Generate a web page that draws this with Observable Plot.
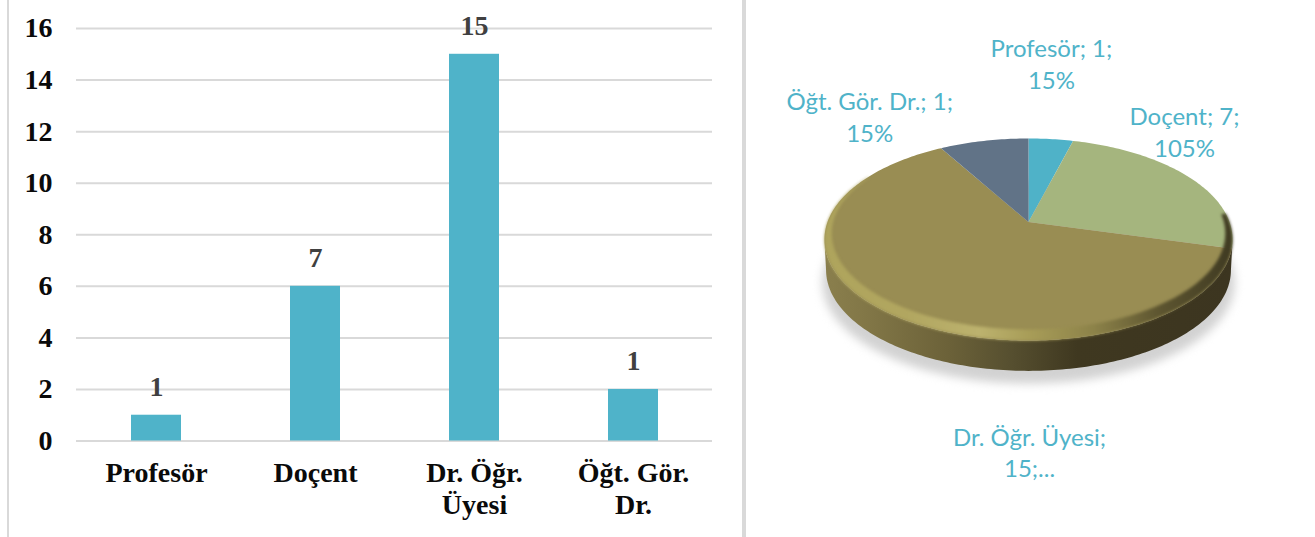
<!DOCTYPE html>
<html><head><meta charset="utf-8">
<script src="https://cdn.jsdelivr.net/npm/d3@7"></script>
<script src="https://cdn.jsdelivr.net/npm/@observablehq/plot@0.6"></script>
<style>
html,body{margin:0;padding:0;background:#fff;overflow:hidden}
#left,#right{position:absolute;top:0;height:537px}
#left{left:0;width:745px}
#right{left:745px;width:570px}
#frame{position:absolute;left:6.5px;top:-4px;width:733.5px;height:539px;border:2px solid #d9d9d9;border-right-width:4px;box-sizing:content-box}
.soft{filter:blur(1.5px)}
.softer{filter:blur(5px)}
.edge{filter:blur(.6px)}
svg{display:block;position:absolute;left:0;top:0;background:transparent!important}
</style></head><body>
<div id="frame"></div><div id="left"></div><div id="right"></div>
<script>
const categories = ["Profesör","Doçent","Dr. Öğr. Üyesi","Öğt. Gör. Dr."];
const axisLabels = ["Profesör","Doçent","Dr. Öğr.\nÜyesi","Öğt. Gör.\nDr."];
const barValues = [1,6,15,2];
const shownValues = ["1","7","15","1"];
const yTicks = [0,2,4,6,8,10,12,14,16];
const pieLabels = ["Profesör; 1;\n15%","Doçent; 7;\n105%","Dr. Öğr. Üyesi;\n15;...","Öğt. Gör. Dr.; 1;\n15%"];
const sliceColors = ["#4fb2c8","#a5b57e","#998d53","#617387"];

const TEAL="#4fb3c9", GRID="#d9d9d9";
const rows = categories.map((c,i)=>({c,v:barValues[i],s:shownValues[i]}));
const serif='"Liberation Serif",serif';

document.getElementById("left").append(Plot.plot({
  width:740,height:537,marginLeft:76,marginRight:28,marginTop:28,marginBottom:96.5,
  style:{fontFamily:serif,background:"transparent",overflow:"visible"},
  x:{domain:categories,range:[76.6,712.6],paddingInner:.685,paddingOuter:.3425},
  y:{domain:[0,16]},
  marks:[
    Plot.ruleY(yTicks,{stroke:GRID,strokeWidth:2}),
    Plot.barY(rows,{x:"c",y:"v",fill:TEAL}),
    Plot.axisY({ticks:yTicks,tickSize:0,tickPadding:24,fontSize:28,fontWeight:"bold",color:"#0a0a0a",label:null}),
    Plot.axisX({tickSize:0,tickPadding:18,fontSize:28,fontWeight:"bold",color:"#0a0a0a",label:null,lineHeight:1.14,
      tickFormat:d=>axisLabels[categories.indexOf(d)]}),
    Plot.text(rows,{x:"c",y:"v",text:"s",dy:-28,fontSize:28,fontWeight:"bold",fill:"#404040"})
  ]
}));

// --- pie: values -> angles -> tilted-circle projection
const total = d3.sum(barValues);
const P = .173;
const rad = d=>d*Math.PI/180;
const rim = t=>{const X=Math.sin(rad(t)),Y=Math.cos(rad(t)),w=1+P*Y;return {u:X/w,v:Y/w};};
let acc=0;
const slices = categories.map((c,i)=>{
  const a0=acc/total*360; acc+=barValues[i]; const a1=acc/total*360;
  const pts=[{u:0,v:0,c}];
  for(let t=a0;t<=a1+1e-9;t+=1) pts.push({...rim(t),c});
  return pts;
}).flat();
const DEPTH=.31, vc=-.179;
const ts=d3.range(100,261);
const side=[...ts.map(rim),...ts.slice().reverse().map(t=>{const p=rim(t);return {u:p.u*.992,v:p.v-DEPTH};})];
const shadow=d3.range(0,360,2).map(rim).map(p=>({u:p.u*1.01,v:p.v-DEPTH-.13}));
const ringTs=d3.range(85,301);
const inner=t=>{const p=rim(t),f=.11*Math.pow((1-Math.cos(rad(t)))/2,2);return {u:p.u*(1-f),v:vc+(p.v-vc)*(1-f)};};
const ring=[...ringTs.map(rim),...ringTs.slice().reverse().map(inner)];

const labelU=[.114,.776,.005,-.79], labelV=[1.625,.93,-2.34,1.085];
const labelRows=pieLabels.map((t,i)=>({t,u:labelU[i],v:labelV[i]}));

const defs=()=>{
  const d=d3.create("svg:defs");
  const grad=(id,stops)=>{const g=d.append("linearGradient").attr("id",id);
    stops.forEach(([o,c])=>g.append("stop").attr("offset",o).attr("stop-color",c));};
  grad("sideG",[[0,"#8a7f4d"],[.1,"#827747"],[.3,"#6c6239"],[.45,"#575030"],[.62,"#3f3820"],[1,"#3c3520"]]);
  grad("ringG",[[0,"#aea45c"],[.2,"#b1a660"],[.38,"#bcb26e"],[.5,"#a89d58"],[.66,"#8c8249"],[.82,"#5d5530"],[1,"#3f3a22"]]);
  return d.node();
};
const poly=(data,o)=>Plot.line(data,{x:"u",y:"v",curve:"linear-closed",stroke:"none",...o});

document.getElementById("right").append(Plot.plot({
  width:570,height:537,margin:0,
  style:{background:"transparent",overflow:"visible",fontFamily:'Lato,sans-serif'},
  x:{domain:[-1,1],range:[1028-745-201,1028-745+201],axis:null},
  y:{domain:[-1,1],range:[221.5+98,221.5-98],axis:null},
  color:{domain:categories,range:sliceColors},
  marks:[
    defs,
    poly(shadow,{fill:"#d2d2d2",className:"softer"}),
    poly(side,{fill:"url(#sideG)",className:"edge"}),
    poly(slices,{z:"c",fill:"c"}),
    poly(ring,{fill:"url(#ringG)",className:"soft"}),
    Plot.text(labelRows,{x:"u",y:"v",text:"t",fontSize:24,fill:TEAL,lineHeight:1.33})
  ]
}));
</script></body></html>
